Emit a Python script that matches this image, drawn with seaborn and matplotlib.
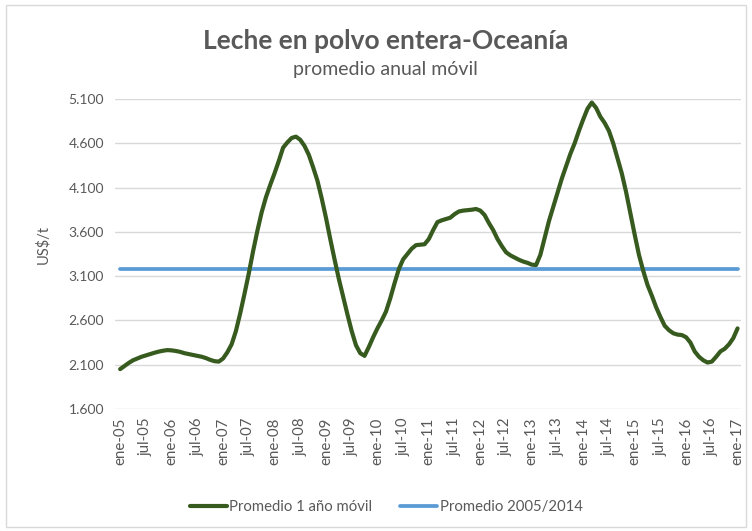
import matplotlib
matplotlib.use("Agg")
import matplotlib.pyplot as plt
import seaborn as sns
import pandas as pd
from matplotlib.patches import Rectangle
from matplotlib.lines import Line2D

# monthly 12-month moving average, ene-05 .. ene-17 (US$/t)
valores_2005 = [2050, 2085, 2120, 2150, 2170, 2190, 2205, 2220, 2235, 2248, 2258, 2265]
valores_2006 = [2262, 2255, 2245, 2230, 2220, 2210, 2200, 2190, 2175, 2155, 2140, 2135]
valores_2007 = [2170, 2240, 2330, 2480, 2680, 2900, 3130, 3380, 3610, 3820, 3990, 4130]
valores_2008 = [4260, 4400, 4550, 4610, 4660, 4675, 4640, 4570, 4470, 4330, 4180, 3980]
valores_2009 = [3760, 3520, 3290, 3070, 2870, 2670, 2480, 2320, 2230, 2200, 2300, 2410]
valores_2010 = [2510, 2600, 2700, 2850, 3020, 3180, 3290, 3350, 3410, 3450, 3455, 3460]
valores_2011 = [3520, 3620, 3710, 3730, 3745, 3760, 3800, 3830, 3840, 3845, 3850, 3858]
valores_2012 = [3840, 3790, 3700, 3620, 3520, 3440, 3370, 3335, 3310, 3285, 3265, 3250]
valores_2013 = [3230, 3225, 3340, 3530, 3720, 3880, 4040, 4200, 4340, 4480, 4600, 4740]
valores_2014 = [4870, 4990, 5060, 5000, 4900, 4830, 4740, 4600, 4430, 4260, 4050, 3810]
valores_2015 = [3570, 3340, 3160, 3000, 2880, 2750, 2640, 2540, 2490, 2455, 2440, 2435]
valores_2016 = [2410, 2350, 2250, 2190, 2150, 2125, 2135, 2190, 2250, 2280, 2330, 2400]
valores_2017 = [2510]

promedio_2005_2014 = 3180

etiquetas_x = ["ene-05", "jul-05", "ene-06", "jul-06", "ene-07", "jul-07", "ene-08", "jul-08",
               "ene-09", "jul-09", "ene-10", "jul-10", "ene-11", "jul-11", "ene-12", "jul-12",
               "ene-13", "jul-13", "ene-14", "jul-14", "ene-15", "jul-15", "ene-16", "jul-16",
               "ene-17"]
ticks_y = [1600, 2100, 2600, 3100, 3600, 4100, 4600, 5100]

serie = (valores_2005 + valores_2006 + valores_2007 + valores_2008 + valores_2009 +
         valores_2010 + valores_2011 + valores_2012 + valores_2013 + valores_2014 +
         valores_2015 + valores_2016 + valores_2017)
df = pd.DataFrame({"mes": range(len(serie)), "valor": serie,
                   "prom": [promedio_2005_2014] * len(serie)})

sns.set_theme(style="white")
plt.rcParams["font.family"] = ["Lato", "DejaVu Sans"]

fig = plt.figure(figsize=(7.52, 5.31), dpi=100)
fig.patch.set_facecolor("white")
fig.add_artist(Rectangle((6 / 752, 4 / 531), 740 / 752, 522 / 531, transform=fig.transFigure,
                         fill=False, edgecolor="#d9d9d9", linewidth=1))

ax = fig.add_axes([115 / 752, 1 - 409 / 531, 626 / 752, 310 / 531])
green = "#375a1e"
blue = "#5b9bd5"
sns.lineplot(data=df, x="mes", y="prom", ax=ax, color=blue, linewidth=2.7, zorder=3)
sns.lineplot(data=df, x="mes", y="valor", ax=ax, color=green, linewidth=3.0, zorder=4)

ax.set_xlim(-1.2, 144.8)
ax.set_ylim(1600, 5100)
ax.set_yticks(ticks_y)
ax.set_yticklabels([f"{v:,}".replace(",", ".") for v in ticks_y], fontsize=10, color="#595959")
ax.set_xticks(range(0, len(serie), 6))
ax.set_xticklabels(etiquetas_x, rotation=90, fontsize=10.8, color="#595959")
ax.tick_params(axis="y", length=0, pad=8)
ax.tick_params(axis="x", length=0, pad=6)
ax.grid(axis="y", color="#d9d9d9", linewidth=1)
ax.set_axisbelow(True)
for s in ax.spines.values():
    s.set_visible(False)
ax.set_xlabel("")
ax.set_ylabel("US$/t", fontsize=10.5, color="#595959", labelpad=10)
ax.yaxis.set_label_coords(-65 / 626, (409 - 245) / 310)

fig.text(386 / 752, 1 - 41 / 531, "Leche en polvo entera-Oceanía", ha="center", va="center",
         fontsize=19, color="#595959", fontweight="bold")
fig.text(385 / 752, 1 - 70 / 531, "promedio anual móvil", ha="center", va="center",
         fontsize=14, color="#595959")

handles = [Line2D([], [], color=green, linewidth=3.0), Line2D([], [], color=blue, linewidth=2.7)]
fig.legend(handles, ["Promedio 1 año móvil", "Promedio 2005/2014"], loc="center",
           bbox_to_anchor=(386 / 752, 1 - 507 / 531), ncol=2, frameon=False, fontsize=10.7,
           handlelength=2.5, handletextpad=0.15, columnspacing=1.9, labelcolor="#595959",
           borderpad=0, borderaxespad=0)

fig.savefig("out.png", dpi=100, facecolor="white")
